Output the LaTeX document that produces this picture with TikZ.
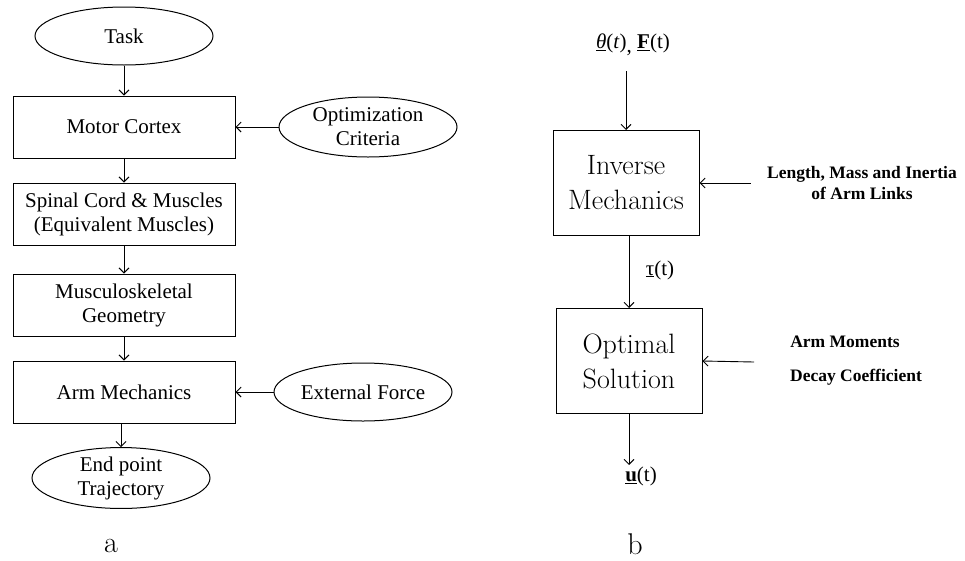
\documentclass[tikz,border=0pt]{standalone}
\usepackage{fontspec}
\setmainfont{Liberation Serif}
\newfontfamily\thinfont{Latin Modern Roman}
\usetikzlibrary{shapes.geometric,arrows.meta}

\begin{document}
\begin{tikzpicture}
  [x=1pt, y=-1pt, line width=1pt,
   block/.style={draw, rectangle, minimum width=222pt, minimum height=62pt, align=center, inner sep=2pt, font=\fontsize{21}{24}\selectfont},
   oval/.style={draw, ellipse, minimum width=178pt, minimum height=58pt, inner sep=0pt, align=center, font=\fontsize{21}{24}\selectfont},
   bigblock/.style={draw, rectangle, minimum width=146pt, minimum height=105pt, align=center, font=\thinfont\fontsize{28}{35}\selectfont},
   input/.style={align=center, inner sep=0pt, font=\bfseries\fontsize{17.5}{21}\selectfont},
   signal/.style={inner sep=1pt, font=\fontsize{21}{24}\selectfont},
   caption/.style={inner sep=0pt, font=\thinfont\fontsize{30}{30}\selectfont},
   arr/.style={-{Straight Barb[length=5pt,width=10pt]}, line width=0.9pt}]
  \useasboundingbox (0,0) rectangle (965,560);
  % left: motor control chain
  \node [oval] (task) at (124,36) {Task};
  \node [block] (motor) at (124,127) {Motor Cortex};
  \node [oval, minimum height=60pt] (crit) at (368,127) {Optimization\\Criteria};
  \node [block] (spinal) at (124,214) {Spinal Cord \& Muscles\\(Equivalent Muscles)};
  \node [block] (geom) at (124,305) {Musculoskeletal\\Geometry};
  \node [block] (arm) at (124,392) {Arm Mechanics};
  \node [oval] (force) at (363,392) {External Force};
  \node [oval] (traj) at (121,478) {End point\\Trajectory};
  \node [caption] (capa) at (111,546) {a};
  \draw [arr] (task) -- (motor);
  \draw [arr] (crit) -- (motor);
  \draw [arr] (motor) -- (spinal);
  \draw [arr] (spinal) -- (geom);
  \draw [arr] (geom) -- (arm);
  \draw [arr] (force) -- (arm);
  \draw [arr] (arm.south -| traj.north) -- (traj.north);
  % right: inverse mechanics and optimal solution
  \node [signal] (traj in) at (633,45) {\underline{\itshape θ}(\textit{t})\raisebox{-4pt}{,} \underline{\textbf{F}}(t)};
  \node [bigblock] (inv) at (626,183) {Inverse\\Mechanics};
  \node [input] (links) at (862,183) {Length, Mass and Inertia\\of Arm Links};
  \node [bigblock] (opt) at (629,361) {Optimal\\Solution};
  \node [signal] (tau) at (660,270) {\underline{τ}(t)};
  \node [input] (moments) at (845,342) {Arm Moments};
  \node [input] (decay) at (856,377) {Decay Coefficient};
  \coordinate (param in) at (754,362);
  \node [signal] (ctrl) at (641,476) {\underline{\textbf{u}}(t)};
  \node [caption] (capb) at (635,544) {b};
  \draw [arr, shorten <=14pt] (traj in.south -| inv.north) -- (inv.north);
  \draw [arr, shorten <=16pt] (links.west) -- (inv.east);
  \draw [arr] (inv.south -| opt.north) -- (opt.north);
  \draw [arr] (param in) -- (opt.east);
  \draw [arr] (opt.south) -- (opt.south |- ctrl.north);
\end{tikzpicture}
\end{document}
